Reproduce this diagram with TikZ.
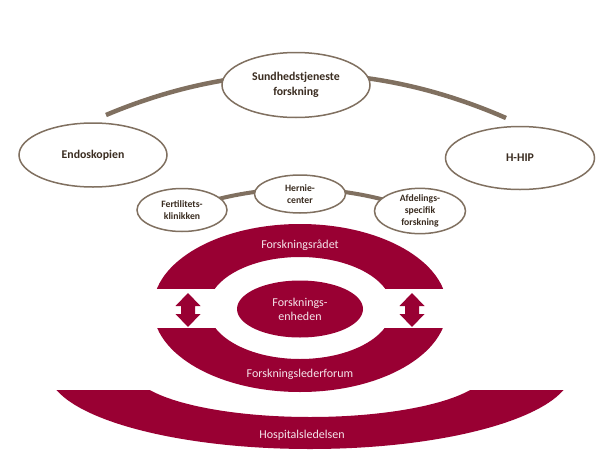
\documentclass[tikz,border=0pt]{standalone}
\usepackage{fontspec}
\setmainfont{Carlito}
\usetikzlibrary{shapes.geometric,backgrounds}
\definecolor{ringred}{RGB}{153,0,51}
\definecolor{arcbrown}{RGB}{128,112,96}
\definecolor{labelbrown}{RGB}{58,44,32}

\begin{document}
\begin{tikzpicture}[x=1pt,y=-1pt,
    bubble/.style={ellipse, draw=arcbrown, line width=1.5pt, fill=white, text=labelbrown,
        font=\bfseries\fontsize{11.8}{15}\selectfont, align=center, inner sep=0pt},
    smallbubble/.style={bubble, font=\bfseries\fontsize{9.7}{11.8}\selectfont},
    band/.style={fill=ringred},
    bandtext/.style={text=white!90!ringred, font=\fontsize{12}{14}\selectfont, align=center}]
    \useasboundingbox (0,0) rectangle (600,450);

    \coordinate (bigL) at (106,115);
    \coordinate (bigR) at (506,118);
    \draw[arcbrown, line width=4.5pt] (bigL) .. controls (239,59) and (373,60) .. (bigR);

    \node[bubble, minimum width=148, minimum height=65] (sund) at (296,85) {Sundhedstjeneste\\forskning};
    \node[bubble, minimum width=148, minimum height=64] (endo) at (93,155) {Endoskopien};
    \node[bubble, minimum width=149, minimum height=63] (hhip) at (520,158) {H-HIP};

    \node[smallbubble, minimum width=90, minimum height=43] (fert) at (182,210) {Fertilitets-\\klinikken};
    \node[smallbubble, minimum width=91, minimum height=38] (hernie) at (300,194) {Hernie-\\center};
    \node[smallbubble, minimum width=91, minimum height=44] (afd) at (420,211) {Afdelings-\\specifik\\forskning};
    \begin{pgfonlayer}{background}
        \draw[arcbrown, line width=4pt] (fert.center) .. controls (261,181.5) and (341,182) .. (afd.center);
    \end{pgfonlayer}

    \begin{scope}
        \clip (0,0) rectangle (600,288);
        \fill[band, even odd rule] (300,308) ellipse [x radius=147, y radius=84]
            (300,308) ellipse [x radius=92, y radius=51];
    \end{scope}
    \begin{scope}
        \clip (0,328) rectangle (600,450);
        \fill[band, even odd rule] (300,308) ellipse [x radius=147, y radius=84]
            (300,308) ellipse [x radius=92, y radius=51];
    \end{scope}
    \begin{scope}
        \clip (0,390) rectangle (600,450);
        \fill[band, even odd rule] (310,370) ellipse [x radius=262, y radius=79]
            (310,370) ellipse [x radius=177, y radius=47];
    \end{scope}

    \foreach \ax in {188,412}
        \fill[band] (\ax,293) -- (\ax+12.5,306) -- (\ax+7,306) -- (\ax+7,314) -- (\ax+12.5,314)
            -- (\ax,327) -- (\ax-12.5,314) -- (\ax-7,314) -- (\ax-7,306) -- (\ax-12.5,306) -- cycle;

    \node[ellipse, band, bandtext, minimum width=126, minimum height=57, inner sep=0pt] (enhed) at (300,309) {Forsknings-\\enheden};
    \node[bandtext] (raad) at (300,245) {Forskningsrådet};
    \node[bandtext] (leder) at (300,374) {Forskningslederforum};
    \node[bandtext] (hosp) at (302,435) {Hospitalsledelsen};
\end{tikzpicture}
\end{document}
